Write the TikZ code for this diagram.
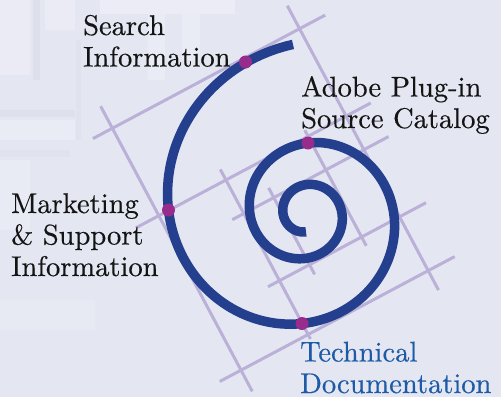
\documentclass[tikz,border=0pt]{standalone}
\usepackage{fontspec}
\newfontfamily\lblfont{lmroman10-regular.otf}[FakeBold=0.4]
\definecolor{bgc}{HTML}{E4E7F1}
\definecolor{bglight}{HTML}{EBECF6}
\definecolor{bgdark}{HTML}{DDDFEB}
\definecolor{gridc}{HTML}{BAB0D8}
\definecolor{spiralc}{HTML}{243F8E}
\definecolor{dotc}{HTML}{982C8C}
\definecolor{techc}{HTML}{1D5BA7}
\begin{document}
\begin{tikzpicture}[x=1pt,y=-1pt,
  lbl/.style={font=\lblfont\fontsize{28.5}{31.5}\selectfont, align=left, anchor=base west, inner sep=0pt, text=black!92},
  gridline/.style={draw=gridc, line width=3pt},
  dotmark/.style={circle, fill=dotc, inner sep=0pt, minimum size=13pt},
  spiralline/.style={draw=spiralc, line width=9.5pt, line cap=butt, line join=round}
]
\useasboundingbox (0,0) rectangle (501,397);
\fill[bgc] (0,0) rectangle (501,397);
% faint background texture (top left)
\fill[bglight!85!bgc] (0,0) rectangle (30,75);
\fill[bglight!85!bgc] (45,0) rectangle (75,30);
\fill[bglight] (100,0) rectangle (235,14);
\fill[bglight!70!bgc] (148,14) rectangle (165,80);
\fill[bglight!70!bgc] (182,14) rectangle (200,60);
\fill[bglight!70!bgc] (0,120) rectangle (75,140);
\fill[bglight!50!bgc] (0,160) rectangle (30,230);
\fill[bglight!40!bgc] (0,300) rectangle (95,330);
\fill[bgdark] (33,0) rectangle (40,80);
\fill[bgdark!80!bgc] (0,110) rectangle (75,117);
\fill[bgdark!50!bgc] (0,150) rectangle (70,157);
\fill[bgdark!50!bgc] (76,40) rectangle (81,140);
% construction grid (rotated frame)
\begin{scope}[rotate=28]
  \draw[gridline] (17,166) -- (280,166);
  \draw[gridline] (13,265) -- (279,265);
  \draw[gridline] (102,303) -- (279,303);
  \draw[gridline] (102,379) -- (281,379);
  \draw[gridline] (15,440) -- (281,440);
  \draw[gridline] (39,141) -- (39,464);
  \draw[gridline] (115,253) -- (115,445);
  \draw[gridline] (149,292) -- (149,390);
  \draw[gridline] (208,258) -- (208,389);
  \draw[gridline] (251,140) -- (251,462);
\end{scope}
% spiral
\draw[spiralline] plot[domain=90:985.6, samples=400, smooth, variable=\t]
  ({306+23*pow(1.25,(\t-180)/90)*cos(\t)}, {213.4+23*pow(1.25,(\t-180)/90)*sin(\t)});
% dots
\node[dotmark] (dsearch) at (245.5,62) {};
\node[dotmark] (dadobe) at (308,143) {};
\node[dotmark] (dmarket) at (168.5,210) {};
\node[dotmark] (dtech) at (302,323.5) {};
% labels (anchor = baseline of last line)
\node[lbl] (search) at (83,66.5) {Search\\Information};
\node[lbl] (adobe) at (301,128) {Adobe Plug-in\\Source Catalog};
\node[lbl] (market) at (11,276) {Marketing\\\& Support\\Information};
\node[lbl, text=techc] (tech) at (300,393) {Technical\\Documentation};
\end{tikzpicture}
\end{document}
